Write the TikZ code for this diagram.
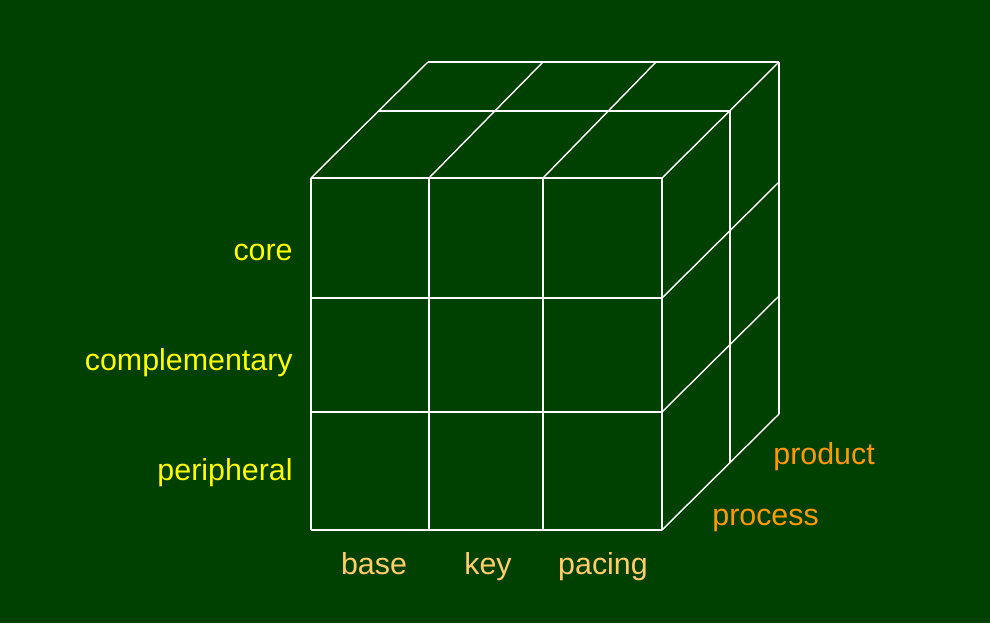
\documentclass[tikz,border=0pt]{standalone}
\usepackage{fontspec}
\setmainfont{Liberation Sans}
\usetikzlibrary{positioning}
\definecolor{boardgreen}{RGB}{0,64,0}
\definecolor{rowyellow}{RGB}{255,255,0}
\definecolor{colpeach}{RGB}{255,204,102}
\definecolor{deporange}{RGB}{255,153,0}

\begin{document}
\begin{tikzpicture}[x=0.02cm, y=-0.02cm,
    gridline/.style={draw=white, line width=0.8pt},
    rowlabel/.style={text=rowyellow, anchor=base east, inner sep=0pt, font=\fontsize{17.3}{20}\selectfont},
    collabel/.style={text=colpeach, anchor=base, inner sep=0pt, font=\fontsize{17.3}{20}\selectfont},
    deplabel/.style={text=deporange, anchor=base west, inner sep=0pt, font=\fontsize{17.3}{20}\selectfont}]
    \fill[boardgreen] (0,0) rectangle (990,623);

    % front face
    \foreach \c in {311,429,543,662}
        \draw[gridline] (\c,178) -- (\c,530);
    \foreach \r in {178,298,412,530}
        \draw[gridline] (311,\r) -- (662,\r);

    % top face
    \foreach \c/\b in {311/428,429/543,543/656,662/779}
        \draw[gridline] (\c,178) -- (\b,62);
    \draw[gridline] (379,111) -- (730,111);
    \draw[gridline] (428,62) -- (779,62);

    % right face
    \foreach \r/\b in {298/182,412/296,530/414}
        \draw[gridline] (662,\r) -- (779,\b);
    \draw[gridline] (730,111) -- (730,463);
    \draw[gridline] (779,62) -- (779,414);

    % labels
    \node[rowlabel] (core) at (293,260) {core};
    \node[rowlabel] (compl) at (293,370) {complementary};
    \node[rowlabel] (periph) at (293,480) {peripheral};
    \node[collabel] (base) at (374,574) {base};
    \node[collabel] (key) at (488,574) {key};
    \node[collabel] (pacing) at (603,574) {pacing};
    \node[deplabel] (product) at (773,464) {product};
    \node[deplabel] (process) at (712,525) {process};
\end{tikzpicture}
\end{document}
